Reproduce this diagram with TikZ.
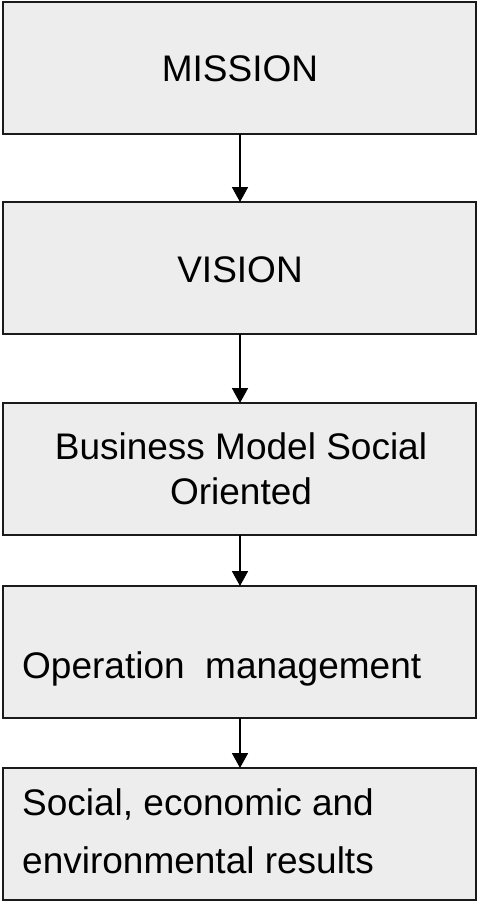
\documentclass[tikz,border=0pt]{standalone}
\usepackage{fontspec}
\setmainfont{Liberation Sans}
\usetikzlibrary{arrows.meta}
\definecolor{boxfill}{HTML}{EDEDED}
\definecolor{boxline}{HTML}{1A1A1A}
\begin{document}
\begin{tikzpicture}[x=1pt,y=-1pt,
  box/.style={draw=boxline,line width=1.5pt,fill=boxfill,minimum width=473pt,inner sep=0pt,outer sep=0pt},
  txt/.style={font=\fontsize{37}{45}\selectfont,inner sep=0pt},
  flow/.style={line width=1.8pt,-{Triangle[width=16pt,length=15pt]}}]
\useasboundingbox (0,0) rectangle (477,902);
\node[box,minimum height=132pt] (b1) at (239.5,68) {};
\node[box,minimum height=132pt] (b2) at (239.5,268) {};
\node[box,minimum height=132pt] (b3) at (239.5,469) {};
\node[box,minimum height=132pt] (b4) at (239.5,652) {};
\node[box,minimum height=132pt] (b5) at (239.5,834) {};
\node[txt,anchor=base] (t1) at (240,81.7) {MISSION};
\node[txt,anchor=base] (t2) at (240,282.7) {VISION};
\node[txt,anchor=base,align=center] (t3) at (241,504) {Business Model Social\\Oriented};
\node[txt,anchor=base west] (t4) at (22,678) {Operation\ \ management};
\node[txt,anchor=base west,align=left,font=\fontsize{37}{58}\selectfont] (t5) at (22,873) {Social, economic and\\environmental results};
\draw[flow] (b1.south -| 240,0) -- (b2.north -| 240,0);
\draw[flow] (b2.south -| 240,0) -- (b3.north -| 240,0);
\draw[flow] (b3.south -| 240,0) -- (b4.north -| 240,0);
\draw[flow] (b4.south -| 240,0) -- (b5.north -| 240,0);
\end{tikzpicture}
\end{document}
